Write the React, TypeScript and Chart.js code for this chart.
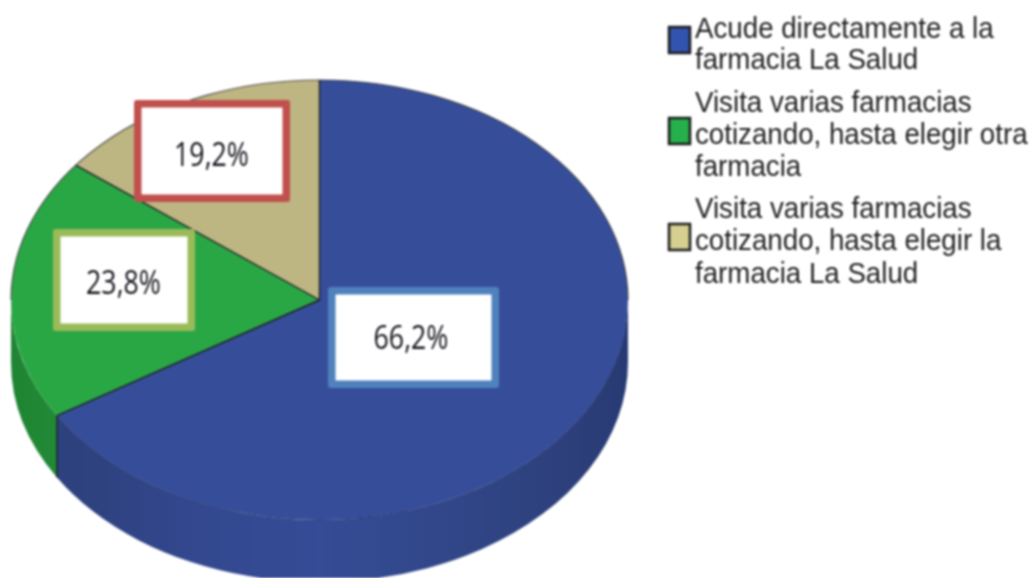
import React, { useEffect, useRef } from "react";
import { Chart, registerables } from "chart.js";

Chart.register(...registerables);

const categories = [
  "Acude directamente a la farmacia La Salud",
  "Visita varias farmacias cotizando, hasta elegir otra farmacia",
  "Visita varias farmacias cotizando, hasta elegir la farmacia La Salud",
];
const legendLines = [
  ["Acude directamente a la", "farmacia La Salud"],
  ["Visita varias farmacias", "cotizando, hasta elegir otra", "farmacia"],
  ["Visita varias farmacias", "cotizando, hasta elegir la", "farmacia La Salud"],
];
const sliceShares = [66.2, 19.3, 14.5];
const printedLabels = ["66,2%", "23,8%", "19,2%"];

const topColors = ["#364E9A", "#2AA745", "#BDB582"];
const swatchColors = ["#3354AE", "#25B04C", "#D6CF90"];
const labelBorders = ["#4F81BD", "#9BBB59", "#C0504D"];

const CX = 319.5;
const CY = 300;
const RX = 308.5;
const RY = 220;
const DEPTH = 62;
const K = RY / RX;
const labelBoxes = [
  { l: 328, t: 287, r: 499, b: 388, tx: 411, ty: 340 },
  { l: 53, t: 229, r: 195, b: 331, tx: 123.5, ty: 285 },
  { l: 134, t: 100, r: 290, b: 202, tx: 211.5, ty: 157 },
];
const legendLayout = [
  { box: [669, 27, 21, 26], base: [38, 69] },
  { box: [669, 118, 21, 26], base: [112, 144, 176] },
  { box: [669, 224, 21, 26], base: [218, 250, 283] },
];

function sideGradient(ctx: CanvasRenderingContext2D, index: number) {
  const g = ctx.createLinearGradient(CX - RX, 0, CX + RX, 0);
  if (index === 0) {
    g.addColorStop(0, "#2E417F");
    g.addColorStop(0.15, "#2F4280");
    g.addColorStop(0.3, "#33488F");
    g.addColorStop(0.5, "#354C96");
    g.addColorStop(0.7, "#324789");
    g.addColorStop(0.9, "#2D407C");
    g.addColorStop(1, "#283A72");
  } else {
    g.addColorStop(0, "#1F8433");
    g.addColorStop(0.1, "#228C38");
    g.addColorStop(1, "#228C38");
  }
  return g;
}

const pie3d = {
  id: "pie3d",
  beforeDatasetsDraw(chart: any) {
    const ctx: CanvasRenderingContext2D = chart.ctx;
    const arcs = chart.getDatasetMeta(0).data;
    const cx = arcs[0].x;
    const cy = arcs[0].y;
    const r = arcs[0].outerRadius;
    const ry = r * K;
    arcs.forEach((arc: any, i: number) => {
      const a0 = Math.max(arc.startAngle, 0);
      const a1 = Math.min(arc.endAngle, Math.PI);
      if (a1 <= a0) return;
      ctx.beginPath();
      ctx.ellipse(cx, cy, r, ry, 0, a0, a1);
      ctx.ellipse(cx, cy + DEPTH, r, ry, 0, a1, a0, true);
      ctx.closePath();
      ctx.fillStyle = sideGradient(ctx, i);
      ctx.fill();
    });
    // Squash the library's circular arcs into the tilted top face.
    ctx.save();
    ctx.translate(0, cy);
    ctx.scale(1, K);
    ctx.translate(0, -cy);
  },
  afterDatasetsDraw(chart: any) {
    const ctx: CanvasRenderingContext2D = chart.ctx;
    ctx.restore();
    const arcs = chart.getDatasetMeta(0).data;
    const cx = arcs[0].x;
    const cy = arcs[0].y;
    const r = arcs[0].outerRadius;
    const ry = r * K;

    // Rim of the rear half.
    ctx.strokeStyle = "rgba(40,40,40,0.75)";
    ctx.lineWidth = 1.2;
    ctx.beginPath();
    ctx.ellipse(cx, cy, r, ry, 0, Math.PI, Math.PI * 2);
    ctx.stroke();

    // Front rim, barely visible on the blue slice.
    ctx.strokeStyle = "rgba(30,40,90,0.3)";
    ctx.beginPath();
    ctx.ellipse(cx, cy, r, ry, 0, 0.05, arcs[0].endAngle);
    ctx.stroke();

    // Slice edges.
    ctx.strokeStyle = "#1c1f24";
    ctx.lineWidth = 1.4;
    arcs.forEach((arc: any) => {
      const ex = cx + r * Math.cos(arc.startAngle);
      const ey = cy + ry * Math.sin(arc.startAngle);
      ctx.beginPath();
      ctx.moveTo(cx, cy);
      ctx.lineTo(ex, ey);
      ctx.stroke();
    });
    const corner = arcs[0].endAngle;
    const kx = cx + r * Math.cos(corner);
    const ky = cy + ry * Math.sin(corner);
    ctx.beginPath();
    ctx.moveTo(kx, ky);
    ctx.lineTo(kx, ky + DEPTH);
    ctx.stroke();

    // Printed percentage boxes.
    ctx.textAlign = "center";
    ctx.textBaseline = "middle";
    ctx.font = '33px "Open Sans"';
    labelBoxes.forEach((b, i) => {
      const bw = 7.5;
      const w = b.r - b.l;
      const h = b.b - b.t;
      ctx.fillStyle = labelBorders[i];
      ctx.beginPath();
      ctx.roundRect(b.l, b.t, w, h, 3);
      ctx.fill();
      ctx.fillStyle = "#ffffff";
      ctx.fillRect(b.l + bw, b.t + bw, w - bw * 2, h - bw * 2);
      ctx.fillStyle = "#14141c";
      ctx.save();
      ctx.translate(b.tx, b.ty);
      ctx.scale(0.81, 1);
      ctx.fillText(printedLabels[i], 0, 0);
      ctx.restore();
    });

    // Legend.
    ctx.textAlign = "left";
    ctx.textBaseline = "alphabetic";
    ctx.font = '29px "Liberation Sans"';
    legendLines.forEach((lines, i) => {
      const lay = legendLayout[i];
      const [x, y, w, h] = lay.box;
      ctx.fillStyle = swatchColors[i];
      ctx.fillRect(x, y, w, h);
      ctx.strokeStyle = "#1b1b1b";
      ctx.lineWidth = 2.5;
      ctx.strokeRect(x, y, w, h);
      ctx.fillStyle = "#222222";
      lines.forEach((line, j) => {
        ctx.save();
        ctx.translate(695, lay.base[j]);
        ctx.scale(0.955, 1);
        ctx.fillText(line, 0, 0);
        ctx.restore();
      });
    });
  },
};

export default function App() {
  const ref = useRef<HTMLCanvasElement>(null);
  useEffect(() => {
    document.body.style.margin = "0";
    const chart = new Chart(ref.current!, {
      type: "pie",
      data: {
        labels: categories,
        datasets: [
          {
            data: sliceShares,
            backgroundColor: topColors,
            borderWidth: 0,
            clip: false,
          } as any,
        ],
      },
      options: {
        responsive: false,
        animation: false,
        radius: RX,
        layout: { padding: { left: 0, top: CY * 2 - 578, right: 1032 - CX * 2, bottom: 0 } },
        plugins: { legend: { display: false }, tooltip: { enabled: false } },
      } as any,
      plugins: [pie3d],
    });
    return () => chart.destroy();
  }, []);
  return (
    <canvas
      ref={ref}
      width={1032}
      height={578}
      style={{ display: "block", filter: "blur(0.8px)" }}
    />
  );
}
